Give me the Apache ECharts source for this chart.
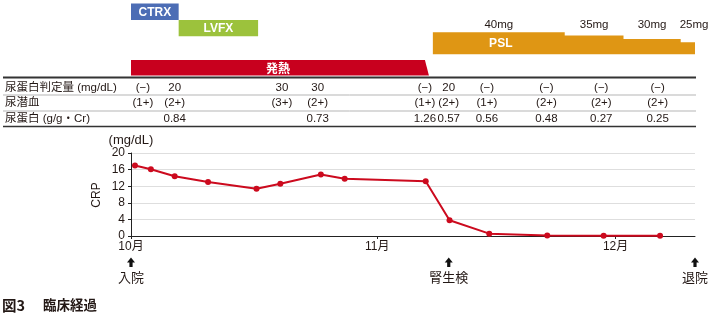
<!DOCTYPE html>
<html>
<head>
<meta charset="utf-8">
<script src="https://cdn.jsdelivr.net/npm/echarts@6/dist/echarts.min.js"></script>
<style>
  html, body { margin: 0; padding: 0; background: #fff; }
  #chart { width: 728px; height: 323px; }
</style>
</head>
<body>
<div id="chart"></div>
<script>
// Days are counted from 1 October (day 0): 1 Nov = 31, 1 Dec = 61.
const monthDays = [0, 31, 61];
const monthLabels = ['10月', '11月', '12月'];
const dayMax = 71;

// CRP (mg/dL)
const crpDays = [0.5, 2.5, 5.5, 9.7, 15.8, 18.8, 23.9, 26.9, 37.1, 40.1, 45.1, 52.4, 59.5, 66.6];
const crpValues = [17.0, 16.1, 14.4, 13.0, 11.4, 12.6, 14.8, 13.8, 13.2, 3.8, 0.56, 0.1, 0.05, 0.05];
const crpTicks = [0, 4, 8, 12, 16, 20];

// Antibiotics
const abxNames = ['CTRX', 'LVFX'];
const abxStart = [0, 6];
const abxEnd = [6, 16];

// Fever period
const feverLabel = '発熱';
const feverStart = 0;
const feverEnd = 37;

// Prednisolone taper
const pslStarts = [38, 54.6, 62, 69.2];
const pslDoses = [40, 35, 30, 25];
const pslEnd = 71;

// Urinalysis
const testDays = [1.5, 5.5, 19, 23.5, 37, 40, 44.8, 52.3, 59.2, 66.3];
const rowTitles = ['尿蛋白判定量 (mg/dL)', '尿潜血', '尿蛋白 (g/g・Cr)'];
const urineProteinQual = ['(−)', '20', '30', '30', '(−)', '20', '(−)', '(−)', '(−)', '(−)'];
const urineBlood = ['(1+)', '(2+)', '(3+)', '(2+)', '(1+)', '(2+)', '(1+)', '(2+)', '(2+)', '(2+)'];
const urineProteinRatio = [null, 0.84, null, 0.73, 1.26, 0.57, 0.56, 0.48, 0.27, 0.25];

// Clinical events
const eventDays = [0, 40, 71];
const eventLabels = ['入院', '腎生検', '退院'];

// ---- drawing ----
const FONT = '"Liberation Sans", "Noto Sans CJK JP", sans-serif';
const TEXT = '#231815';
const abxColors = ['#4c6db5', '#9cc23c'];
const FEVER_COLOR = '#c8001e';
const PSL_COLOR = '#df9614';
const LINE_RED = '#cc0a1e';

const rowY = [87.5, 103, 119];
const rowTexts = [
  urineProteinQual,
  urineBlood,
  urineProteinRatio.map(v => v == null ? '' : v.toFixed(2))
];
const tableItems = [];
rowTexts.forEach((texts, r) => {
  texts.forEach((t, i) => { if (t) tableItems.push([testDays[i], r, t]); });
});

const xOf = (api, d) => api.coord([d, 0])[0];

const chart = echarts.init(document.getElementById('chart'), null, { renderer: 'canvas' });

chart.setOption({
  animation: false,
  backgroundColor: '#fff',
  grid: { left: 131, right: 33, top: 153, bottom: 87 },
  xAxis: {
    type: 'value', min: 0, max: dayMax,
    axisLine: { lineStyle: { color: '#222', width: 1 } },
    axisTick: { show: true, length: 3, customValues: monthDays, lineStyle: { color: '#222' } },
    axisLabel: {
      customValues: monthDays, margin: 5,
      formatter: v => monthLabels[monthDays.indexOf(v)] || '',
      color: TEXT, fontSize: 12, fontFamily: FONT
    },
    splitLine: { show: false }
  },
  yAxis: {
    type: 'value', min: 0, max: 20, interval: 4,
    axisLine: { show: true, lineStyle: { color: '#222', width: 1 } },
    axisTick: { show: true, length: 3, lineStyle: { color: '#222' } },
    axisLabel: { margin: 6, color: TEXT, fontSize: 12, fontFamily: FONT },
    splitLine: { lineStyle: { color: '#dedede', width: 1 } }
  },
  graphic: [
    // table rules
    { type: 'line', shape: { x1: 3, y1: 77.5, x2: 696, y2: 77.5 }, style: { stroke: '#333', lineWidth: 2 } },
    { type: 'line', shape: { x1: 3, y1: 95, x2: 696, y2: 95 }, style: { stroke: '#b5b5b5', lineWidth: 1 } },
    { type: 'line', shape: { x1: 3, y1: 111, x2: 696, y2: 111 }, style: { stroke: '#b5b5b5', lineWidth: 1 } },
    { type: 'line', shape: { x1: 3, y1: 126.5, x2: 696, y2: 126.5 }, style: { stroke: '#333', lineWidth: 1.5 } },
    ...rowTitles.map((t, r) => ({
      type: 'text', x: 5, y: rowY[r],
      style: { text: t, fill: TEXT, font: '11.5px ' + FONT, align: 'left', verticalAlign: 'middle' }
    })),
    // axis titles
    { type: 'text', x: 131, y: 140, style: { text: '(mg/dL)', fill: TEXT, font: '13px ' + FONT, align: 'center', verticalAlign: 'middle' } },
    { type: 'text', x: 97, y: 195, rotation: Math.PI / 2, style: { text: 'CRP', fill: TEXT, font: '12px ' + FONT, align: 'center', verticalAlign: 'middle' } },
    // caption
    { type: 'text', x: 2, y: 305, style: { text: '図3', fill: TEXT, font: 'bold 14.5px "Noto Sans CJK JP", sans-serif', align: 'left', verticalAlign: 'middle' } },
    { type: 'text', x: 43, y: 305, style: { text: '臨床経過', fill: TEXT, font: 'bold 13.5px "Noto Sans CJK JP", sans-serif', align: 'left', verticalAlign: 'middle' } }
  ],
  series: [
    {
      name: 'CRP', type: 'line',
      data: crpDays.map((d, i) => [d, crpValues[i]]),
      symbol: 'circle', symbolSize: 6,
      lineStyle: { color: LINE_RED, width: 2 },
      itemStyle: { color: LINE_RED },
      z: 5
    },
    {
      // antibiotic bars
      type: 'custom',
      data: abxNames.map((n, i) => [abxStart[i], abxEnd[i]]),
      renderItem: (params, api) => {
        const i = params.dataIndex;
        const x0 = xOf(api, abxStart[i]), x1 = xOf(api, abxEnd[i]);
        const h = 16.4, y0 = 3.5 + i * h;
        return {
          type: 'group', children: [
            { type: 'rect', shape: { x: x0, y: y0, width: x1 - x0, height: h }, style: { fill: abxColors[i] } },
            { type: 'text', style: { text: abxNames[i], x: (x0 + x1) / 2, y: y0 + h / 2 + 0.5, align: 'center', verticalAlign: 'middle', fill: '#fff', font: 'bold 12px ' + FONT } }
          ]
        };
      }
    },
    {
      // fever band
      type: 'custom',
      data: [[feverStart, feverEnd]],
      renderItem: (params, api) => {
        const x0 = xOf(api, feverStart), x1 = xOf(api, feverEnd);
        const top = 60, bottom = 75.5;
        return {
          type: 'group', children: [
            { type: 'polygon', shape: { points: [[x0, top], [x1, top], [x1 + 4, bottom], [x0, bottom]] }, style: { fill: FEVER_COLOR } },
            { type: 'text', style: { text: feverLabel, x: (x0 + x1) / 2, y: (top + bottom) / 2 + 0.5, align: 'center', verticalAlign: 'middle', fill: '#fff', font: 'bold 12px "Noto Sans CJK JP", sans-serif' } }
          ]
        };
      }
    },
    {
      // prednisolone taper
      type: 'custom',
      data: [[pslStarts[0], pslEnd]],
      renderItem: (params, api) => {
        const base = 54.3;
        const hOf = dose => (dose - 7) * 0.667;
        const xs = pslStarts.map(d => xOf(api, d));
        const xe = xOf(api, pslEnd);
        const pts = [[xs[0], base]];
        const labels = [];
        pslDoses.forEach((dose, i) => {
          const top = base - hOf(dose);
          const xa = xs[i], xb = i + 1 < xs.length ? xs[i + 1] : xe;
          pts.push([xa, top], [xb, top]);
          const narrow = (xb - xa) < 30;
          labels.push({
            type: 'text',
            style: {
              text: dose + 'mg', x: narrow ? xa - 1 : (xa + xb) / 2, y: 25,
              align: narrow ? 'left' : 'center', verticalAlign: 'middle',
              fill: TEXT, font: '11.5px ' + FONT
            }
          });
        });
        pts.push([xe, base]);
        const firstTop = base - hOf(pslDoses[0]);
        return {
          type: 'group', children: [
            { type: 'polygon', shape: { points: pts }, style: { fill: PSL_COLOR } },
            { type: 'text', style: { text: 'PSL', x: (xs[0] + xs[1]) / 2 + 2, y: (firstTop + base) / 2 + 0.5, align: 'center', verticalAlign: 'middle', fill: '#fff', font: 'bold 12px ' + FONT } },
            ...labels
          ]
        };
      }
    },
    {
      // urinalysis table values
      type: 'custom',
      data: tableItems.map(t => [t[0], t[1]]),
      renderItem: (params, api) => {
        const it = tableItems[params.dataIndex];
        return {
          type: 'text',
          style: { text: it[2], x: xOf(api, it[0]), y: rowY[it[1]], align: 'center', verticalAlign: 'middle', fill: TEXT, font: '11.5px ' + FONT }
        };
      }
    },
    {
      // admission / biopsy / discharge markers
      type: 'custom',
      data: eventDays.map(d => [d, 0]),
      renderItem: (params, api) => {
        const i = params.dataIndex;
        const x = xOf(api, eventDays[i]);
        const tip = 257.5, neck = 262.5, end = 267;
        return {
          type: 'group', children: [
            { type: 'polygon', shape: { points: [[x, tip], [x + 4, neck], [x + 1.6, neck], [x + 1.6, end], [x - 1.6, end], [x - 1.6, neck], [x - 4, neck]] }, style: { fill: '#111' } },
            { type: 'text', style: { text: eventLabels[i], x: x, y: 277.5, align: 'center', verticalAlign: 'middle', fill: TEXT, font: '13px "Noto Sans CJK JP", sans-serif' } }
          ]
        };
      }
    }
  ]
});
</script>
</body>
</html>
